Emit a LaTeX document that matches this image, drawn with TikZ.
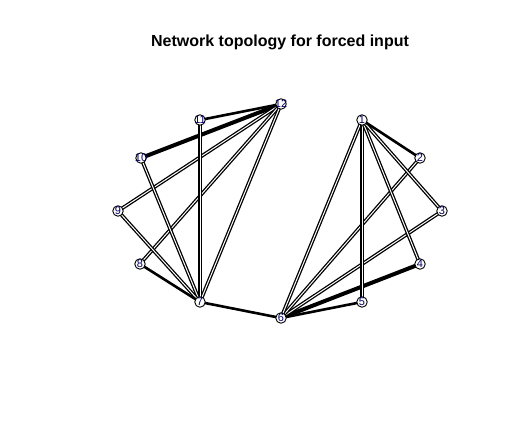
\documentclass[tikz,border=0pt]{standalone}
\usepackage{fontspec}
\setmainfont{Liberation Sans}
\definecolor{dblue}{RGB}{0,0,100}
\pgfdeclarelayer{back}
\pgfdeclarelayer{background}
\pgfsetlayers{back,background,main}
\begin{document}
\begin{tikzpicture}[x=1pt,y=-1pt,
  vtx/.style={circle,draw=black,fill=white,line width=0.9pt,minimum size=10.5pt,inner sep=0pt,
    label={[text=dblue,font=\fontsize{11}{11}\selectfont,inner sep=0pt]center:#1}},
  single/.style={draw=black,line width=2.6pt},
  thick3/.style={draw=black,line width=4pt},
  dbl/.style={draw=black,line width=1.3pt,double=white,double distance=1pt}]
\begin{pgfonlayer}{back}
\fill[white] (0,0) rectangle (524,442);
\end{pgfonlayer}
\useasboundingbox (0,0) rectangle (524,442);
\node[font=\bfseries\fontsize{16}{16}\selectfont,anchor=base] (title) at (280,46.7) {Network topology for forced input};
\node[vtx=1]  (v1)  at (362,120) {};
\node[vtx=2]  (v2)  at (420,158) {};
\node[vtx=3]  (v3)  at (442,211) {};
\node[vtx=4]  (v4)  at (420,264) {};
\node[vtx=5]  (v5)  at (362,302) {};
\node[vtx=6]  (v6)  at (281,318) {};
\node[vtx=7]  (v7)  at (200,302) {};
\node[vtx=8]  (v8)  at (140,264) {};
\node[vtx=9]  (v9)  at (118,211) {};
\node[vtx=10] (v10) at (141,158) {};
\node[vtx=11] (v11) at (200,120) {};
\node[vtx=12] (v12) at (281,104) {};
\begin{pgfonlayer}{background}
\draw[single] (v12.center) -- (v11.center);
\draw[thick3] (v12.center) -- (v10.center);
\draw[dbl] (v12.center) -- (v9.center);
\draw[dbl] (v12.center) -- (v8.center);
\draw[dbl] (v12.center) -- (v7.center);
\draw[dbl] (v7.center) -- (v11.center);
\draw[dbl] (v7.center) -- (v10.center);
\draw[dbl] (v7.center) -- (v9.center);
\draw[single] (v7.center) -- (v8.center);
\draw[single] (v7.center) -- (v6.center);
\draw[single] (v6.center) -- (v5.center);
\draw[thick3] (v6.center) -- (v4.center);
\draw[dbl] (v6.center) -- (v3.center);
\draw[dbl] (v6.center) -- (v2.center);
\draw[dbl] (v6.center) -- (v1.center);
\draw[dbl] (v1.center) -- (v5.center);
\draw[dbl] (v1.center) -- (v4.center);
\draw[dbl] (v1.center) -- (v3.center);
\draw[single] (v1.center) -- (v2.center);
\end{pgfonlayer}
\end{tikzpicture}
\end{document}
